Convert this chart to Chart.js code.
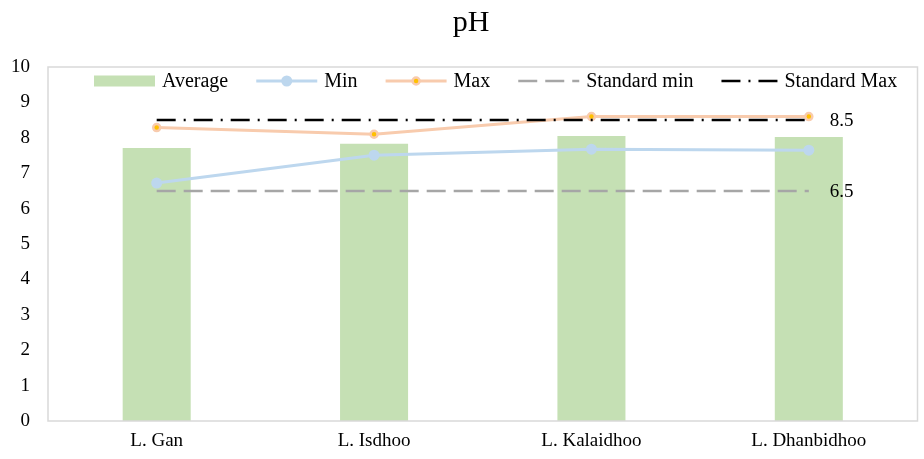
<!DOCTYPE html>
<html>
<head>
<meta charset="utf-8">
<script src="https://cdn.jsdelivr.net/npm/chart.js@4"></script>
<style>
  html, body { margin: 0; padding: 0; background: #fff; }
  canvas { display: block; }
</style>
</head>
<body>
<canvas id="chart" width="924" height="459"></canvas>
<script>
// chart values
const categories = ['L. Gan', 'L. Isdhoo', 'L. Kalaidhoo', 'L. Dhanbidhoo'];
const averageValues = [7.71, 7.83, 8.05, 8.02];
const minValues = [6.72, 7.51, 7.68, 7.65];
const maxValues = [8.29, 8.10, 8.60, 8.60];
const standardMin = [6.5, 6.5, 6.5, 6.5];
const standardMax = [8.5, 8.5, 8.5, 8.5];
const yTicks = [0, 1, 2, 3, 4, 5, 6, 7, 8, 9, 10];
const chartTitle = 'pH';

const FONT = "'Liberation Serif', 'Times New Roman', serif";
Chart.defaults.font.family = FONT;
Chart.defaults.color = '#000';

// title, plot border, in-plot legend and the two standard labels
const decorPlugin = {
    id: 'decor',
    afterDatasetsDraw(chart) {
        const ctx = chart.ctx;
        const area = chart.chartArea;
        ctx.save();
        ctx.strokeStyle = '#d9d9d9';
        ctx.lineWidth = 1.5;
        ctx.strokeRect(area.left, area.top, area.right - area.left, area.bottom - area.top);

        ctx.fillStyle = '#000';
        ctx.textBaseline = 'middle';
        ctx.textAlign = 'center';
        ctx.font = '30px ' + FONT;
        ctx.fillText(chartTitle, 471, 23);

        // labels at the end of the standard lines
        ctx.font = '19px ' + FONT;
        ctx.textAlign = 'left';
        chart.data.datasets.forEach((ds, i) => {
            if (!ds.endLabel) return;
            const pts = chart.getDatasetMeta(i).data;
            const last = pts[pts.length - 1];
            ctx.fillText(ds.data[pts.length - 1].toFixed(1), last.x + 21, last.y + 1);
        });

        // legend
        ctx.font = '20px ' + FONT;
        const y = area.top + 14;
        let x = area.left + 46;
        const textGap = 7, itemGap = 28;
        chart.data.datasets.forEach(ds => {
            const symW = ds.legendWidth || 61;
            ctx.save();
            if (ds.type === 'bar') {
                ctx.fillStyle = ds.backgroundColor;
                ctx.fillRect(x, y - 5.5, symW, 11);
            } else {
                ctx.strokeStyle = ds.borderColor;
                ctx.lineWidth = ds.borderWidth;
                ctx.setLineDash(ds.borderDash || []);
                ctx.beginPath();
                ctx.moveTo(x, y);
                ctx.lineTo(x + symW, y);
                ctx.stroke();
                ctx.setLineDash([]);
                if (ds.pointRadius > 0) {
                    ctx.beginPath();
                    ctx.arc(x + symW / 2, y, ds.pointRadius, 0, Math.PI * 2);
                    ctx.fillStyle = ds.pointBackgroundColor;
                    ctx.fill();
                    if (ds.pointBorderWidth) {
                        ctx.lineWidth = ds.pointBorderWidth;
                        ctx.strokeStyle = ds.pointBorderColor;
                        ctx.stroke();
                    }
                }
            }
            ctx.restore();
            ctx.fillText(ds.label, x + symW + textGap, y + 1);
            x += symW + textGap + ctx.measureText(ds.label).width + itemGap;
        });
        ctx.restore();
    }
};

const ctx = document.getElementById('chart').getContext('2d');
new Chart(ctx, {
    type: 'bar',
    data: {
        labels: categories,
        datasets: [
            {
                type: 'bar',
                label: 'Average',
                data: averageValues,
                backgroundColor: '#c5e0b4',
                categoryPercentage: 1,
                barPercentage: 0.313,
                order: 10
            },
            {
                type: 'line',
                label: 'Min',
                data: minValues,
                borderColor: '#bdd7ee',
                borderWidth: 3,
                pointRadius: 5.5,
                pointBackgroundColor: '#bdd7ee',
                pointBorderColor: '#bdd7ee',
                pointBorderWidth: 0,
                order: 4
            },
            {
                type: 'line',
                label: 'Max',
                data: maxValues,
                borderColor: '#f8cbad',
                borderWidth: 3,
                pointRadius: 3.5,
                pointBackgroundColor: '#ffc000',
                pointBorderColor: '#f8cbad',
                pointBorderWidth: 2.5,
                order: 3
            },
            {
                type: 'line',
                label: 'Standard min',
                data: standardMin,
                borderColor: '#a6a6a6',
                borderWidth: 2.5,
                borderDash: [19, 8],
                pointRadius: 0,
                endLabel: true,
                order: 2
            },
            {
                type: 'line',
                label: 'Standard Max',
                data: standardMax,
                borderColor: '#000',
                borderWidth: 2.5,
                borderDash: [19, 8, 2, 8],
                pointRadius: 0,
                endLabel: true,
                legendWidth: 56,
                order: 1
            }
        ]
    },
    options: {
        responsive: false,
        animation: false,
        layout: { padding: { left: 0, right: 6, top: 67, bottom: 6 } },
        plugins: {
            legend: { display: false },
            tooltip: { enabled: false },
            title: { display: false }
        },
        scales: {
            x: {
                afterFit(scale) { scale.height = 32; },
                grid: { display: false, drawTicks: false },
                border: { display: false },
                ticks: { font: { size: 19 }, padding: 9, color: '#000' }
            },
            y: {
                min: 0,
                max: 10,
                afterBuildTicks(scale) { scale.ticks = yTicks.map(v => ({ value: v })); },
                afterFit(scale) { scale.width = 48; },
                grid: { display: false, drawTicks: false },
                border: { display: false },
                ticks: { font: { size: 19 }, padding: 18, color: '#000' }
            }
        }
    },
    plugins: [decorPlugin]
});
</script>
</body>
</html>
